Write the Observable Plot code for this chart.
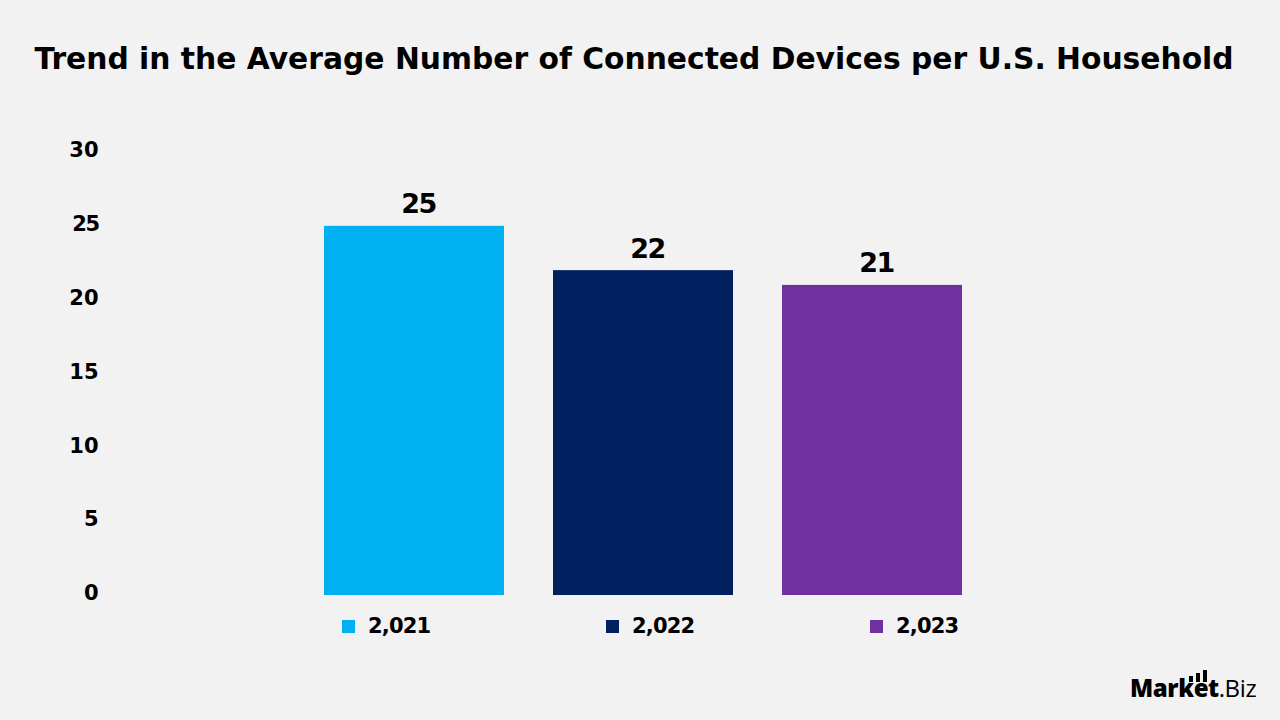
<!DOCTYPE html>
<html>
<head>
<meta charset="utf-8">
<script src="https://cdn.jsdelivr.net/npm/d3@7"></script>
<script src="https://cdn.jsdelivr.net/npm/@observablehq/plot@0.6"></script>
<style>
  html, body { margin: 0; padding: 0; background: #f2f2f2; }
  #wrap { position: relative; width: 1280px; height: 720px; overflow: hidden; background: #f2f2f2; font-family: "DejaVu Sans", sans-serif; color: #000; }
  #title { position: absolute; left: -6px; top: 44px; width: 1280px; text-align: center; font-weight: bold; font-size: 30px; white-space: nowrap; line-height: 1; }
  #title span { display: inline-block; }
  #chart { position: absolute; left: 0; top: 0; }
  #legend { position: absolute; left: 342px; top: 612px; height: 28px; display: flex; }
  .item { width: 264px; display: flex; align-items: center; font-weight: bold; font-size: 21px; letter-spacing: -0.8px; line-height: 28px; }
  .sw { width: 13px; height: 13px; margin-right: 13px; flex: none; }
  #logo { position: absolute; left: 1130px; top: 676px; white-space: nowrap; font-family: "Open Sans", sans-serif; font-size: 24px; letter-spacing: -0.4px; line-height: 1; }
  #logo b { font-weight: 800; }
  #logo .bars { position: absolute; left: 59px; top: -8px; height: 14px; width: 28px; }
  #logo .bars i { position: absolute; bottom: 0; width: 4px; background: #000; }
</style>
</head>
<body>
<div id="wrap">
  <div id="title"><span>Trend in the Average Number of Connected Devices per U.S. Household</span></div>
  <div id="chart"></div>
  <div id="legend"></div>
  <div id="logo"><b>Market</b>.Biz<div class="bars"><i style="left:0;height:6px"></i><i style="left:7px;height:9px"></i><i style="left:14px;height:12px"></i></div></div>
</div>
<script>
// Average connected devices per U.S. household, by year
const years = ["2,021", "2,022", "2,023"];
const devices = [25, 22, 21];
const colors = ["#00B0F0", "#002060", "#7030A0"];
const yTicks = [0, 5, 10, 15, 20, 25, 30];

const data = years.map((year, i) => ({ year, devices: devices[i] }));

const chart = Plot.plot({
  width: 1280,
  height: 720,
  marginTop: 152,
  marginBottom: 125,
  marginLeft: 110,
  marginRight: 0,
  style: { background: "transparent", fontFamily: "DejaVu Sans, sans-serif", color: "#000" },
  x: { domain: years, range: [324, 962], paddingInner: 0.214, paddingOuter: 0, axis: null },
  y: { domain: [0, 30] },
  color: { domain: years, range: colors },
  marks: [
    Plot.axisY({ ticks: yTicks, tickSize: 0, tickPadding: 12, tickFormat: d => String(d), fontSize: 21, fontWeight: "bold", fill: "#000", dy: -2, label: null }),
    Plot.barY(data, { x: "year", y: "devices", fill: "year" }),
    Plot.text(data, { x: "year", y: "devices", text: d => String(d.devices), lineAnchor: "bottom", dy: -13, dx: 4, fontSize: 27, fontWeight: "bold", fill: "#000", style: { letterSpacing: "-1.5px" } })
  ]
});
document.getElementById("chart").appendChild(chart);
chart.querySelectorAll("text").forEach(n => { if (/^2[125]$/.test(n.textContent)) n.style.letterSpacing = "-1.5px"; });

// Legend row under the bars
const legend = d3.select("#legend");
years.forEach((y, i) => {
  const it = legend.append("div").attr("class", "item");
  it.append("div").attr("class", "sw").style("background", colors[i]);
  it.append("span").text(y);
});

// Fit the title to its line width
const t = document.querySelector("#title span");
const w = t.getBoundingClientRect().width;
document.getElementById("title").style.fontSize = (30 * 1200 / w) + "px";
</script>
</body>
</html>
